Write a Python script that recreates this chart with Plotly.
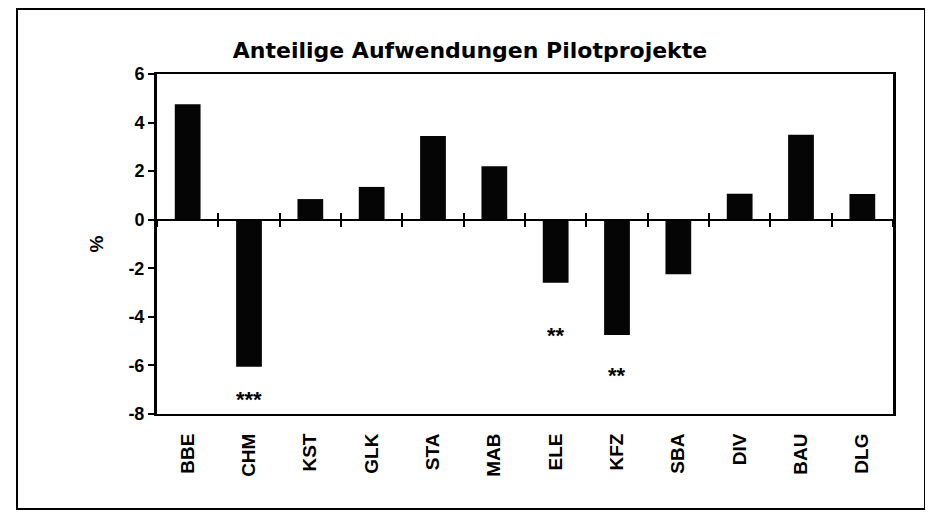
"""
Bar chart: Anteilige Aufwendungen Pilotprojekte (share of expenses, pilot projects).
"""
import plotly.graph_objects as go

# Sector codes on the x axis
categories = ["BBE", "CHM", "KST", "GLK", "STA", "MAB", "ELE", "KFZ", "SBA", "DIV", "BAU", "DLG"]

# Percentage values
values = [4.75, -6.05, 0.85, 1.35, 3.45, 2.2, -2.6, -4.75, -2.25, 1.07, 3.5, 1.06]

# Significance stars below some bars
star_labels = ["***", "**", "**"]
star_cats = ["CHM", "ELE", "KFZ"]
star_y = [-7.22, -4.62, -6.25]

y_ticks = [-8, -6, -4, -2, 0, 2, 4, 6]
y_ticktext = ["-8", "-6", "-4", "-2", "0", "2", "4", "6"]

FONT = "Liberation Sans, Arial, sans-serif"
TITLE_FONT = "DejaVu Sans, Liberation Sans, sans-serif"

# page body adds an 8px offset, so the figure is a bit smaller than the window
W, H = 925, 504
L, R, T, B = 149, 40, 66, 98
plot_w = W - L - R
plot_h = H - T - B

fig = go.Figure()

fig.add_trace(
    go.Bar(
        x=categories,
        y=values,
        width=0.42,
        marker=dict(color="#050505", line=dict(width=0)),
        hovertemplate="%{x}: %{y:.2f}%<extra></extra>",
        showlegend=False,
    )
)

# empty traces so the zero-line axes get drawn
for ax in ["x2", "x3"]:
    fig.add_trace(go.Scatter(x=[], y=[], xaxis=ax, yaxis="y", showlegend=False,
                             hoverinfo="skip"))

# Stars as annotations
for lab, cat, yv in zip(star_labels, star_cats, star_y):
    fig.add_annotation(
        x=cat, y=yv, text=lab, showarrow=False,
        font=dict(family=FONT, size=22, color="black", weight="bold"),
        yshift=-4,
    )

n = len(categories)
zero_pos = (0 - y_ticks[0]) / (y_ticks[-1] - y_ticks[0])

# Axis line at y = 0 with ticks crossing it (outside + inside)
zero_axis = dict(
    overlaying="x", anchor="free", position=zero_pos, type="linear",
    range=[-0.5, n - 0.5], showline=True, linecolor="black", linewidth=2,
    tickmode="linear", tick0=0.5, dtick=1, ticklen=6, tickwidth=1.5,
    tickcolor="black", showticklabels=False, showgrid=False, zeroline=False,
    fixedrange=True,
)

fig.update_layout(
    width=W,
    height=H,
    paper_bgcolor="white",
    plot_bgcolor="white",
    margin=dict(l=L, r=R, t=T, b=B),
    title=dict(
        text="Anteilige Aufwendungen Pilotprojekte",
        x=462 / W, xanchor="center", xref="container",
        y=1 - 42 / H, yanchor="middle",
        font=dict(family=TITLE_FONT, size=22, color="black", weight="bold"),
    ),
    xaxis=dict(
        type="category",
        range=[-0.5, n - 0.5],
        showline=True, linecolor="black", linewidth=2, mirror=True,
        ticks="", tickangle=-90, ticklabelstandoff=10,
        tickfont=dict(family=FONT, size=19, color="black", weight="bold"),
        showgrid=False, zeroline=False,
    ),
    xaxis2=dict(zero_axis, ticks="outside"),
    xaxis3=dict(zero_axis, ticks="inside"),
    yaxis=dict(
        range=[y_ticks[0], y_ticks[-1]],
        tickvals=y_ticks, ticktext=y_ticktext,
        showline=True, linecolor="black", linewidth=3, mirror=True,
        ticks="outside", ticklen=6, tickwidth=1.5, tickcolor="black",
        tickfont=dict(family=FONT, size=18, color="black", weight="bold"),
        title=dict(text="%", standoff=20,
                   font=dict(family=FONT, size=19, color="black", weight="bold")),
        showgrid=False, zeroline=False,
    ),
    font=dict(family=FONT, color="black"),
)

# Outer frame around the whole chart
fig.add_shape(
    type="rect", xref="paper", yref="paper",
    x0=(9 - L) / plot_w, x1=(917 - L) / plot_w,
    y0=-(501 - (H - B)) / plot_h, y1=1 + (T - 1) / plot_h,
    line=dict(color="black", width=2), layer="below",
)

fig.write_html("out.html")
